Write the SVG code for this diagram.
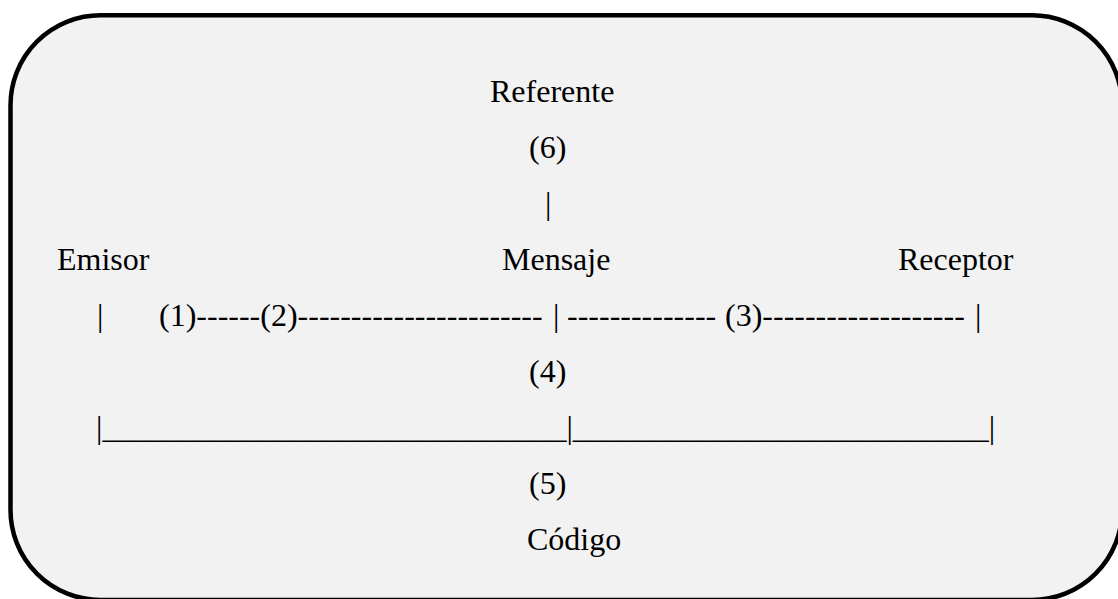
<svg xmlns="http://www.w3.org/2000/svg" width="1118" height="599" viewBox="0 0 1118 599">
  <style>
    .t { font-family: "Liberation Serif", "Times New Roman", serif; font-size: 32px; fill: #000; }
    .frame { fill: #f2f2f2; stroke: #000; stroke-width: 4.5; }
  </style>
  <rect width="1118" height="599" fill="#ffffff"/>
  <g id="frame">
    <rect class="frame" x="10.5" y="15.3" width="1111.5" height="584.7" rx="90" ry="90"/>
  </g>
  <g id="referente"><text class="t" x="490" y="102">Referente</text></g>
  <g id="n6"><text class="t" x="529" y="158">(6)</text></g>
  <g id="bar6"><text class="t" x="545" y="214">|</text></g>
  <g id="emisor"><text class="t" x="57" y="270">Emisor</text></g>
  <g id="mensaje"><text class="t" x="502" y="270">Mensaje</text></g>
  <g id="receptor"><text class="t" x="898" y="270">Receptor</text></g>
  <g id="connectors">
    <text class="t" x="97" y="326">|</text>
    <text class="t" x="159" y="326">(1)------(2)-----------------------</text>
    <text class="t" x="553" y="326">|</text>
    <text class="t" x="567" y="326">--------------</text>
    <text class="t" x="725" y="326">(3)-------------------</text>
    <text class="t" x="975" y="326">|</text>
    <text class="t" x="529" y="382">(4)</text>
    <text class="t" x="96" y="438">|_____________________________|__________________________|</text>
    <text class="t" x="529" y="494">(5)</text>
  </g>
  <g id="codigo"><text class="t" x="527" y="550">Código</text></g>
</svg>
